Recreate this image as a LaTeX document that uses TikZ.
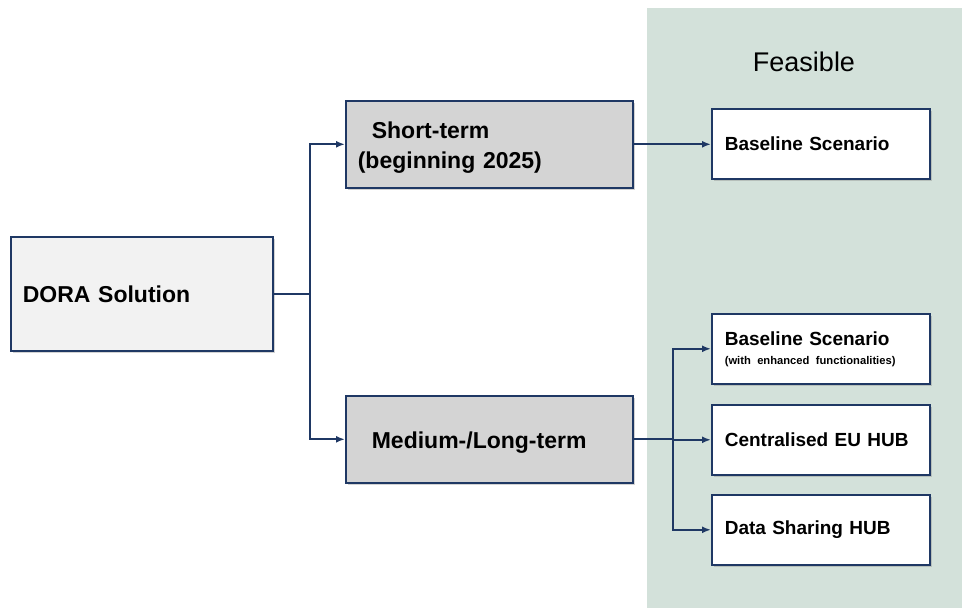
\documentclass[tikz,border=0pt]{standalone}
\usepackage{fontspec}
\setmainfont{Liberation Sans}
\usetikzlibrary{arrows.meta, shadows}

\definecolor{navy}{HTML}{1F3864}
\definecolor{panelgreen}{HTML}{D3E1DA}
\definecolor{rootgray}{HTML}{F2F2F2}
\definecolor{termgray}{HTML}{D4D4D4}

\tikzset{
	box/.style = {draw=navy, line width=1.6pt, anchor=north west, align=left,
		inner ysep=0pt, font=\bfseries,
		drop shadow={shadow xshift=2pt, shadow yshift=-2.5pt, opacity=.35}},
	rootbox/.style = {box, fill=rootgray, text width=238pt, inner xsep=12pt,
		minimum height=114pt, font=\bfseries\fontsize{23}{28}\selectfont},
	termbox/.style = {box, fill=termgray, text width=263pt, inner xsep=12pt,
		minimum height=87pt, font=\bfseries\fontsize{23}{30}\selectfont},
	optbox/.style = {box, fill=white, text width=192pt, inner xsep=13pt,
		minimum height=70pt, font=\bfseries\fontsize{19}{22}\selectfont},
	link/.style = {draw=navy, line width=1.8pt},
	arrow/.style = {link, -{Latex[length=9pt, width=7pt]}}
}

\begin{document}
\begin{tikzpicture}[x=1pt, y=-1pt]
\useasboundingbox (0,0) rectangle (962,608);

% feasible panel
\fill[panelgreen] (647,8) rectangle (962,608);
\node (feasible) at (804,62) {\fontsize{27}{30}\selectfont Feasible};

% boxes
\node[rootbox] (dora) at (10,236) {DORA Solution};
\node[termbox] (short) at (345,100) {\rule{0pt}{24pt}\hspace*{14pt}Short-term\\(beginning 2025)};
\node[termbox] (medium) at (345,395) {\rule{0pt}{22.5pt}\hspace*{14pt}Medium-/Long-term};

\node[optbox] (base) at (711,108) {Baseline Scenario};
\node[optbox] (baseplus) at (711,313) {Baseline Scenario\\[-3pt]{\fontsize{11.2}{13}\selectfont (with enhanced functionalities)}};
\node[optbox] (euhub) at (711,404) {Centralised EU HUB};
\node[optbox] (sharehub) at (711,494) {Data Sharing HUB};

% connectors
\draw[link] (dora.east) -- ++(36,0) coordinate (split1);
\draw[arrow] (split1) |- (short.west);
\draw[arrow] (split1) |- (medium.west);
\draw[arrow] (short.east) -- (base.west |- short.east);

\draw[link] (medium.east) -- ++(39,0) coordinate (split2);
\draw[arrow] (split2) |- (baseplus.west);
\draw[arrow] (split2) |- (euhub.west);
\draw[arrow] (split2) |- (sharehub.west);
\end{tikzpicture}
\end{document}
